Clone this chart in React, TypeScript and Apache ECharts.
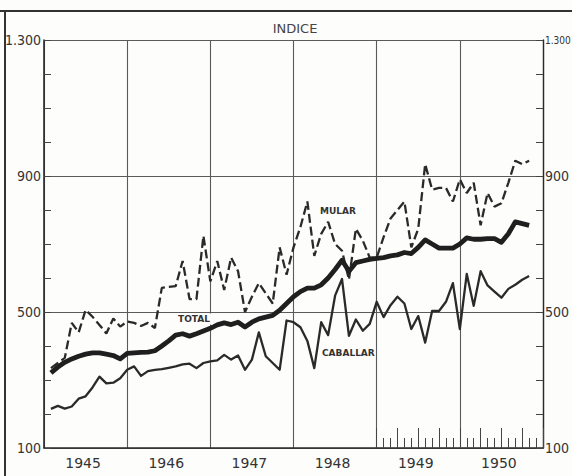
import React, { useEffect, useRef } from "react";
import * as echarts from "echarts";

// Year categories (axis labels)
const years = ["1945", "1946", "1947", "1948", "1949", "1950"];
const monthNames = ["E", "F", "M", "A", "My", "J", "Jl", "Ag", "S", "O", "N", "D"];
const months = years.flatMap((y) => monthNames.map((m) => `${m} ${y}`));

// Y tick labels
const yTicks = [100, 500, 900, 1300];
const yTickLabels = ["100", "500", "900", "1.300"];

// Monthly index values, Jan 1945 – Oct 1950
const mular = [
  335, 350, 365, 468, 440, 506, 486, 462, 437, 481, 457, 472,
  468, 459, 468, 453, 571, 574, 576, 650, 538, 538, 724, 590,
  650, 565, 660, 620, 500, 545, 585, 555, 525, 690, 610, 690,
  750, 825, 665, 730, 765, 700, 680, 595, 745, 710, 660, 660,
  720, 775, 800, 825, 690, 745, 935, 860, 865, 865, 825, 890,
  850, 880, 755, 850, 810, 820, 880, 945, 935, 945,
];
const total = [
  321, 338, 352, 362, 370, 376, 380, 380, 376, 372, 362, 378,
  380, 381, 382, 386, 400, 415, 432, 436, 429, 436, 444, 452,
  462, 468, 463, 470, 456, 470, 480, 485, 490, 505, 525, 545,
  560, 570, 570, 580, 600, 625, 652, 620, 645, 650, 655, 658,
  660, 665, 668, 675, 672, 690, 712, 700, 688, 688, 688, 700,
  718, 714, 714, 716, 716, 705, 730, 765, 760, 755,
];
const caballar = [
  215, 224, 216, 222, 245, 252, 278, 310, 290, 292, 305, 330,
  340, 312, 326, 330, 332, 336, 340, 346, 348, 335, 350, 355,
  358, 374, 360, 372, 330, 360, 440, 370, 350, 330, 475, 470,
  455, 415, 335, 470, 432, 548, 597, 430, 478, 445, 465, 530,
  485, 520, 545, 525, 450, 488, 410, 503, 503, 530, 585, 450,
  612, 518, 620, 578, 560, 542, 568, 580, 595, 606,
];

const INK = "#2a2a2a";
const GRIDC = "#5a5a5a";

const toPts = (arr: number[]) => arr.map((v, i) => [i + 1, v]);

export default function App() {
  const ref = useRef<HTMLDivElement>(null);
  useEffect(() => {
    if (!ref.current) return;
    document.body.style.margin = "0";
    document.body.style.overflow = "hidden";
    document.documentElement.style.overflow = "hidden";
    const chart = echarts.init(ref.current, null, { renderer: "svg" });
    const yLabelFmt = (v: number) => {
      const k = yTicks.indexOf(v);
      return k >= 0 ? yTickLabels[k] : "";
    };
    const yLabelFmtRight = (v: number) => {
      const k = yTicks.indexOf(v);
      if (k < 0) return "";
      return v === 1300 ? `{s|${yTickLabels[k]}}` : yTickLabels[k];
    };
    const yFont = "'Liberation Sans Narrow', 'DejaVu Sans Condensed', sans-serif";
    const labelFont = "bold 9px 'DejaVu Sans', sans-serif";
    chart.setOption({
      animation: false,
      backgroundColor: "#fdfdfc",
      grid: {
        left: 44,
        right: 29,
        top: 40,
        bottom: 28,
        containLabel: false,
        outerBoundsMode: "none",
      },
      xAxis: [
        {
          type: "category",
          data: years,
          position: "bottom",
          boundaryGap: true,
          axisLine: { show: true, lineStyle: { color: INK, width: 1.6 } },
          axisTick: { show: false },
          axisLabel: {
            color: "#333",
            fontSize: 14,
            fontFamily: "'DejaVu Sans', sans-serif",
            margin: 8,
            padding: [0, 5, 0, 0],
          },
          splitLine: { show: true, lineStyle: { color: GRIDC, width: 1.1 } },
        },
        {
          type: "value",
          min: 0,
          max: 72,
          show: false,
          position: "top",
        },
        {
          type: "category",
          data: months,
          position: "bottom",
          boundaryGap: true,
          axisLine: { show: false },
          axisLabel: { show: false },
          splitLine: { show: false },
          axisTick: {
            show: true,
            inside: true,
            length: 10,
            interval: (i: number) => i >= 48,
            lineStyle: { color: "#444", width: 1 },
          },
        },
        {
          type: "category",
          data: months,
          position: "bottom",
          boundaryGap: true,
          axisLine: { show: false },
          axisLabel: { show: false },
          splitLine: { show: false },
          axisTick: {
            show: true,
            inside: true,
            length: 20,
            interval: (i: number) => i >= 48 && i % 3 === 0,
            lineStyle: { color: "#444", width: 1 },
          },
        },
      ],
      yAxis: [
        {
          type: "value",
          min: 100,
          max: 1300,
          interval: 400,
          position: "left",
          axisLine: { show: true, lineStyle: { color: INK, width: 1.6 } },
          axisTick: { show: true, inside: true, length: 7, lineStyle: { color: "#444" } },
          minorTick: { show: true, splitNumber: 4, length: 7, lineStyle: { color: "#444", width: 1 } },
          axisLabel: {
            formatter: yLabelFmt,
            color: "#333",
            fontSize: 14,
            fontFamily: yFont,
            margin: 3,
          },
          splitLine: { show: true, lineStyle: { color: GRIDC, width: 1.1 } },
        },
        {
          type: "value",
          min: 100,
          max: 1300,
          interval: 400,
          position: "right",
          axisLine: { show: true, lineStyle: { color: INK, width: 1.4 } },
          axisTick: { show: true, inside: true, length: 7, lineStyle: { color: "#444" } },
          minorTick: { show: true, splitNumber: 4, length: 7, lineStyle: { color: "#444", width: 1 } },
          axisLabel: {
            formatter: yLabelFmtRight,
            color: "#333",
            fontSize: 14,
            fontFamily: yFont,
            margin: 2,
            rich: {
              s: { fontSize: 10, fontFamily: yFont, color: "#333" },
            },
          },
          splitLine: { show: false },
        },
      ],
      series: [
        {
          name: "MULAR",
          type: "line",
          xAxisIndex: 1,
          yAxisIndex: 0,
          data: toPts(mular),
          showSymbol: false,
          symbol: "none",
          lineStyle: { color: INK, width: 2.3, type: [9, 4] },
          z: 3,
        },
        {
          name: "TOTAL",
          type: "line",
          xAxisIndex: 1,
          yAxisIndex: 0,
          data: toPts(total),
          showSymbol: false,
          symbol: "none",
          lineStyle: { color: "#1f1f1f", width: 4.8, join: "round" },
          z: 4,
        },
        {
          name: "CABALLAR",
          type: "line",
          xAxisIndex: 1,
          yAxisIndex: 0,
          data: toPts(caballar),
          showSymbol: false,
          symbol: "none",
          lineStyle: { color: INK, width: 2.3, join: "round" },
          z: 3,
        },
      ],
      graphic: [
        { type: "line", shape: { x1: 0, y1: 11, x2: 572, y2: 11 }, style: { stroke: "#333", lineWidth: 2 } },
        { type: "line", shape: { x1: 5, y1: 11, x2: 5, y2: 476 }, style: { stroke: "#333", lineWidth: 2 } },
        {
          type: "text",
          x: 295,
          y: 28,
          style: {
            text: "INDICE",
            fill: "#444",
            font: "13px 'DejaVu Sans', sans-serif",
            align: "center",
            verticalAlign: "middle",
          },
        },
        {
          type: "text",
          x: 320,
          y: 211,
          z: 10,
          style: { text: "MULAR", fill: "#333", font: labelFont, verticalAlign: "middle" },
        },
        {
          type: "text",
          x: 175,
          y: 319,
          z: 10,
          style: { text: "TOTAL", fill: "#333", font: labelFont, verticalAlign: "middle", backgroundColor: "#fdfdfc", padding: [1, 3] },
        },
        {
          type: "text",
          x: 322,
          y: 353,
          z: 10,
          style: { text: "CABALLAR", fill: "#333", font: labelFont, verticalAlign: "middle" },
        },
      ],
    });
    return () => chart.dispose();
  }, []);
  return <div ref={ref} style={{ width: 572, height: 476 }} />;
}
